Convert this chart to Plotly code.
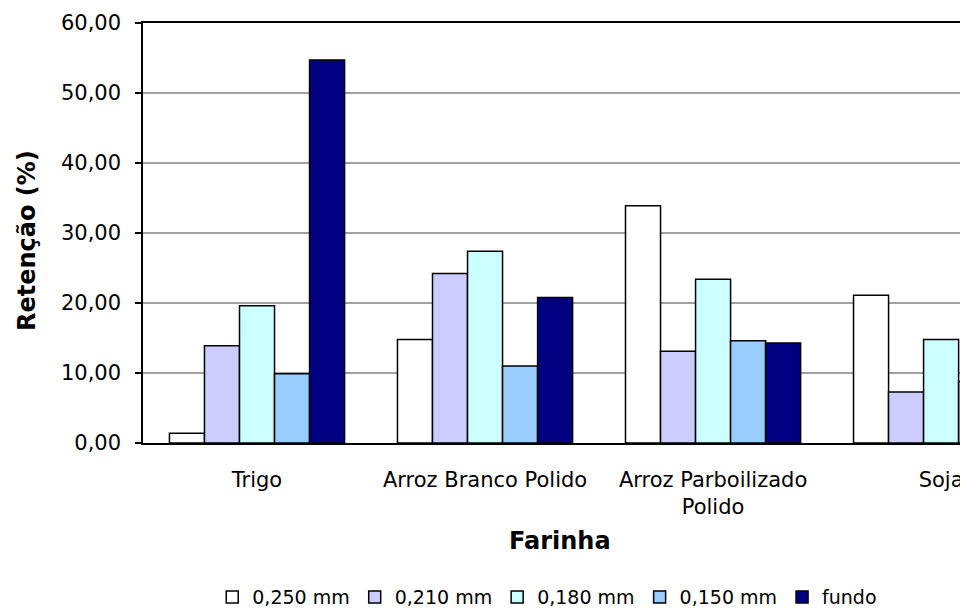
import plotly.graph_objects as go

categories = ["Trigo", "Arroz Branco Polido", "Arroz Parboilizado<br>Polido", "Soja"]
series_names = ["0,250 mm", "0,210 mm", "0,180 mm", "0,150 mm", "fundo"]
values = {
    "0,250 mm": [1.4, 14.8, 33.9, 21.1],
    "0,210 mm": [13.9, 24.2, 13.1, 7.3],
    "0,180 mm": [19.6, 27.4, 23.4, 14.8],
    "0,150 mm": [9.9, 11.0, 14.6, 8.8],
    "fundo": [54.7, 20.8, 14.3, 48.0],
}
colors = ["#FFFFFF", "#CCCCFF", "#CCFFFF", "#99CCFF", "#000080"]
y_ticks = [0, 10, 20, 30, 40, 50, 60]
x_title = "Farinha"
y_title = "Retenção (%)"

fig = go.Figure()
for name, col in zip(series_names, colors):
    fig.add_trace(go.Bar(
        x=list(range(len(categories))), y=values[name], name=name,
        marker=dict(color=col, line=dict(color="#000000", width=1.5)),
    ))

# The page body has an 8px margin, so the figure is drawn 8px smaller and offset.
font_family = "DejaVu Sans, Liberation Sans, Arial, sans-serif"
fig.update_layout(
    template="none",
    width=960, height=601,
    margin=dict(l=135, r=0, t=15, b=166, autoexpand=False),
    paper_bgcolor="#FFFFFF", plot_bgcolor="#FFFFFF",
    barmode="group", bargap=0.232, bargroupgap=0,
    separators=",.",
    font=dict(family=font_family, color="#000000", size=19),
    showlegend=True,
    legend=dict(orientation="h", x=0.49, xanchor="center", y=-0.367, yanchor="middle",
                font=dict(size=19), itemwidth=30, traceorder="normal",
                bgcolor="rgba(0,0,0,0)"),
    xaxis=dict(
        automargin=False,
        range=[-0.5, 3.118], tickmode="array", tickvals=list(range(len(categories))),
        ticktext=categories, showgrid=False, zeroline=False, showline=True,
        linecolor="#000000", linewidth=1.5, mirror=True,
        ticks="outside", ticklen=17, tickcolor="rgba(0,0,0,0)",
        tickfont=dict(size=21),
    ),
    yaxis=dict(
        automargin=False,
        range=[0, 60], tickmode="array", tickvals=y_ticks, tickformat=".2f",
        showgrid=True, gridcolor="#A0A0A0", gridwidth=1.5, zeroline=False,
        showline=True, linecolor="#000000", linewidth=1.5,
        ticks="outside", ticklen=6, tickcolor="#000000", tickwidth=1.5,
        ticklabelstandoff=10,
        tickfont=dict(size=21),
    ),
    annotations=[
        dict(text="<b>" + x_title + "</b>", xref="paper", yref="paper",
             x=0.505, y=(443 - 541) / 420, xanchor="center", yanchor="middle",
             showarrow=False, font=dict(size=24)),
        dict(text="<b>" + y_title + "</b>", xref="paper", yref="paper",
             x=(27 - 143) / 825, y=(443 - 241) / 420, xanchor="center", yanchor="middle",
             textangle=-90, showarrow=False, font=dict(size=24)),
    ],
)

fig.write_html("out.html")
